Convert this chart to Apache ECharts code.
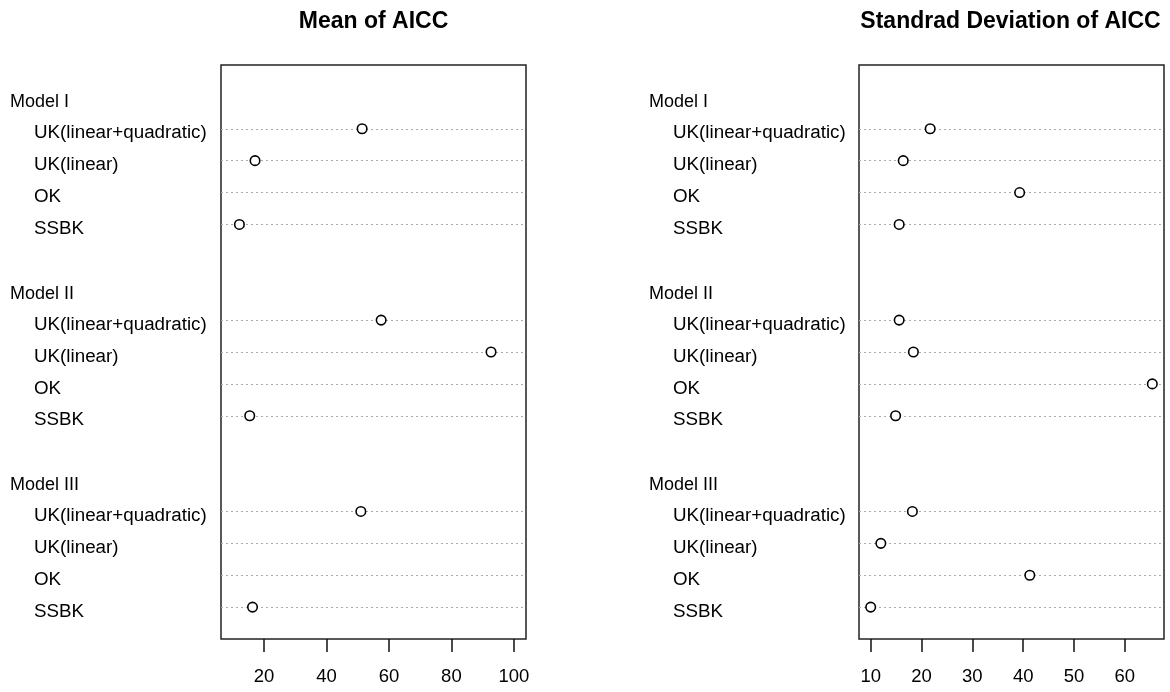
<!DOCTYPE html>
<html>
<head>
<meta charset="utf-8">
<script src="https://cdn.jsdelivr.net/npm/echarts@6/dist/echarts.min.js"></script>
<style>
html,body{margin:0;padding:0;background:#fff;}
#chart{width:1170px;height:692px;}
</style>
</head>
<body>
<div id="chart"></div>
<script>
// ---- data ----
var groups = ['Model I', 'Model II', 'Model III'];
var methods = ['UK(linear+quadratic)', 'UK(linear)', 'OK', 'SSBK'];
// Mean of AICC (null = no point shown in the reference)
var meanModelI   = [51.4, 17.1, null, 12.1];
var meanModelII  = [57.5, 92.7, null, 15.4];
var meanModelIII = [51.0, null, null, 16.3];
// Standard deviation of AICC
var sdModelI   = [21.7, 16.4, 39.3, 15.6];
var sdModelII  = [15.6, 18.4, 65.4, 14.9];
var sdModelIII = [18.2, 12.0, 41.3, 10.0];
var meanTicks = [20, 40, 60, 80, 100];
var sdTicks = [10, 20, 30, 40, 50, 60];
var titles = ['Mean of AICC', 'Standrad Deviation of AICC'];

// ---- dotchart row layout (R style: groups separated by blank rows) ----
var rowLabel = {};   // position -> {text, group}
var rowPositions = [];
var nPerGroup = methods.length;
var topPos = groups.length * (nPerGroup + 2) - 1; // 17
groups.forEach(function (g, gi) {
  var gp = topPos - gi * (nPerGroup + 2);
  rowLabel[gp] = {text: g, group: true};
  methods.forEach(function (m, mi) {
    var p = gp - 1 - mi;
    rowLabel[p] = {text: m, group: false};
    rowPositions.push(p);
  });
});
var yMax = topPos + 1;

function buildData(arrs) {
  var out = [];
  arrs.forEach(function (arr, gi) {
    arr.forEach(function (v, mi) {
      if (v !== null) out.push([v, rowPositions[gi * nPerGroup + mi]]);
    });
  });
  return out;
}

var FONT = 'Liberation Sans, Arial, Helvetica, sans-serif';

function yAxisCfg(gridIndex, margin) {
  return {
    type: 'value', gridIndex: gridIndex, min: 0, max: yMax, interval: 1,
    axisLine: {show: false}, axisTick: {show: false}, splitLine: {show: false},
    axisLabel: {
      show: true, align: 'left', margin: margin, fontFamily: FONT,
      formatter: function (v) {
        var r = rowLabel[v];
        if (!r) return '';
        return r.group ? '{g|' + r.text + '}' : '{m|' + r.text + '}';
      },
      rich: {
        g: {fontSize: 18, color: '#000', fontFamily: FONT, padding: [11, 0, 0, 0]},
        m: {fontSize: 18.8, color: '#000', fontFamily: FONT, padding: [9, 0, 0, 24]}
      }
    }
  };
}

function xAxisCfg(gridIndex, mn, mx, ticks) {
  return {
    type: 'value', gridIndex: gridIndex, min: mn, max: mx,
    axisLine: {show: false},
    splitLine: {show: false},
    axisTick: {show: true, inside: false, length: 13, customValues: ticks,
      lineStyle: {color: '#111', width: 1.5}},
    axisLabel: {show: true, customValues: ticks, margin: 28, fontSize: 18.5,
      color: '#000', fontFamily: FONT, lineHeight: 20}
  };
}

function dotLines() {
  return {
    silent: true, symbol: ['none', 'none'], label: {show: false},
    lineStyle: {type: [2, 3], color: '#aaaaaa', width: 1.2},
    data: rowPositions.map(function (p) { return {yAxis: p}; }),
    animation: false
  };
}

function scatter(idx, data) {
  return {
    type: 'scatter', xAxisIndex: idx, yAxisIndex: idx, data: data,
    symbol: 'circle', symbolSize: 9.5,
    itemStyle: {color: '#fff', borderColor: '#000', borderWidth: 1.6, opacity: 1},
    markLine: dotLines(), z: 5
  };
}

var chart = echarts.init(document.getElementById('chart'), null, {renderer: 'canvas'});
chart.setOption({
  animation: false,
  backgroundColor: '#fff',
  title: [
    {text: titles[0], left: 373.5, top: 10, textAlign: 'center', padding: 0,
      textStyle: {fontSize: 23, fontWeight: 'bold', color: '#000', fontFamily: FONT}},
    {text: titles[1], left: 1010.5, top: 10, textAlign: 'center', padding: 0,
      textStyle: {fontSize: 23, fontWeight: 'bold', color: '#000', fontFamily: FONT}}
  ],
  grid: [
    {left: 221, right: 644, top: 65, bottom: 53, show: true, borderColor: '#222', borderWidth: 1.5, backgroundColor: 'transparent'},
    {left: 859, right: 6, top: 65, bottom: 53, show: true, borderColor: '#222', borderWidth: 1.5, backgroundColor: 'transparent'}
  ],
  xAxis: [
    xAxisCfg(0, 6.2, 103.9, meanTicks),
    xAxisCfg(1, 7.7, 67.7, sdTicks)
  ],
  yAxis: [
    yAxisCfg(0, 211),
    yAxisCfg(1, 210)
  ],
  series: [
    scatter(0, buildData([meanModelI, meanModelII, meanModelIII])),
    scatter(1, buildData([sdModelI, sdModelII, sdModelIII]))
  ]
});
</script>
</body>
</html>
